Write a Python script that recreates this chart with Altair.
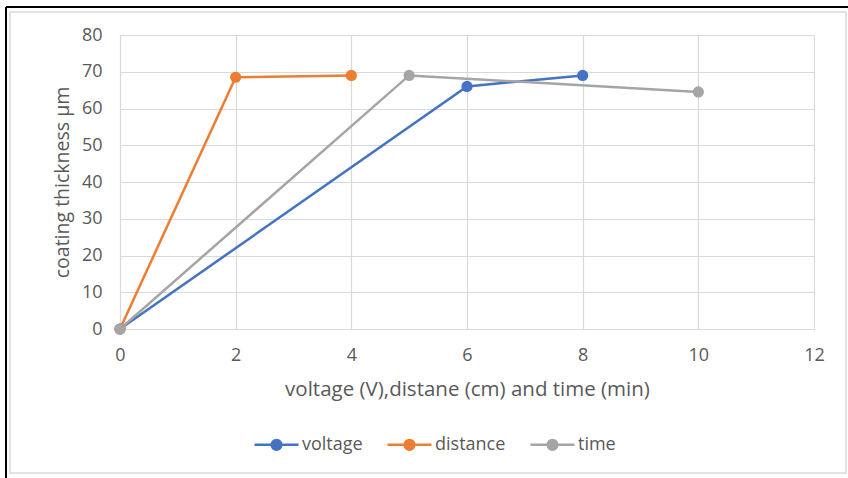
import altair as alt
import pandas as pd

series = ["voltage", "distance", "time"]
voltage_x = [0, 6, 8]
voltage_y = [0, 66, 69]
distance_x = [0, 2, 4]
distance_y = [0, 68.5, 69]
time_x = [0, 5, 10]
time_y = [0, 69, 64.5]
x_ticks = [0, 2, 4, 6, 8, 10, 12]
y_ticks = [0, 10, 20, 30, 40, 50, 60, 70, 80]
colors = ["#4472C4", "#ED7D31", "#A5A5A5"]

rows = []
for name, xs, ys in [("voltage", voltage_x, voltage_y),
                     ("distance", distance_x, distance_y),
                     ("time", time_x, time_y)]:
    for i, (a, b) in enumerate(zip(xs, ys)):
        rows.append({"series": name, "x": a, "y": b, "order": i})
df = pd.DataFrame(rows)

FONT = "Open Sans"
TXT = "#595959"
GRID = "#D9D9D9"

cscale = alt.Scale(domain=series, range=colors)

X = alt.X("x:Q", scale=alt.Scale(domain=[0, 12], nice=False),
          axis=alt.Axis(values=x_ticks, title="voltage (V),distane (cm) and time (min)",
                        labelPadding=17, titlePadding=15, grid=True, labelFlush=False,
                        titleFontSize=20.5))
Y = alt.Y("y:Q", scale=alt.Scale(domain=[0, 80], nice=False),
          axis=alt.Axis(values=y_ticks, title="coating thickness µm",
                        labelPadding=18, titlePadding=9, grid=True, domain=False,
                        labelFlush=False, titleFontSize=19.5))

base = alt.Chart(df)


def circle(r):
    return f"M {-r} 0 A {r} {r} 0 1 0 {r} 0 A {r} {r} 0 1 0 {-r} 0 "


sym = "M -1 0 L 1 0 " + circle(0.22) + circle(0.15) + circle(0.08) + circle(0.02)
leg = alt.Legend(orient="none", legendX=133, legendY=386, direction="horizontal",
                 title=None, symbolType=sym, symbolSize=1936, symbolStrokeWidth=2.5,
                 symbolOpacity=1, labelFont=FONT, labelFontSize=18, labelColor=TXT,
                 labelOffset=2, columnPadding=19, padding=0)

lines = base.mark_line(strokeWidth=2.5).encode(
    x=X, y=Y,
    color=alt.Color("series:N", scale=cscale, legend=leg, sort=series),
    detail="series:N",
    order="order:Q",
)

points = base.mark_point(filled=True, size=125, strokeWidth=1, opacity=1).encode(
    x=X, y=Y,
    fill=alt.Fill("series:N", scale=cscale, legend=None, sort=series),
)

frame_df = pd.DataFrame({"k": [0]})
frame = alt.Chart(frame_df).mark_rect(fill=None, stroke=GRID, strokeWidth=1.5).encode(
    x=alt.value(-110), x2=alt.value(726), y=alt.value(-23), y2=alt.value(438)
)
top_line = alt.Chart(frame_df).mark_rule(color="#000000", strokeWidth=2).encode(
    x=alt.value(-114), x2=alt.value(728), y=alt.value(-28)
)
left_line = alt.Chart(frame_df).mark_rule(color="#000000", strokeWidth=2).encode(
    x=alt.value(-114), y=alt.value(-28), y2=alt.value(443)
)

chart = alt.layer(frame, top_line, left_line, lines, points).properties(
    width=694, height=294,
    autosize=alt.AutoSizeParams(type="none"),
    padding={"left": 120, "top": 35, "right": 34, "bottom": 149},
    background="white",
).configure_view(stroke=GRID).configure_axis(
    labelFont=FONT, labelFontSize=18, labelColor=TXT,
    titleFont=FONT, titleColor=TXT, titleFontWeight="normal",
    gridColor=GRID, gridWidth=1.2, domainColor=GRID, domainWidth=1.2, ticks=False,
)

chart.save("out.html", embed_options={"renderer": "svg", "actions": False})
